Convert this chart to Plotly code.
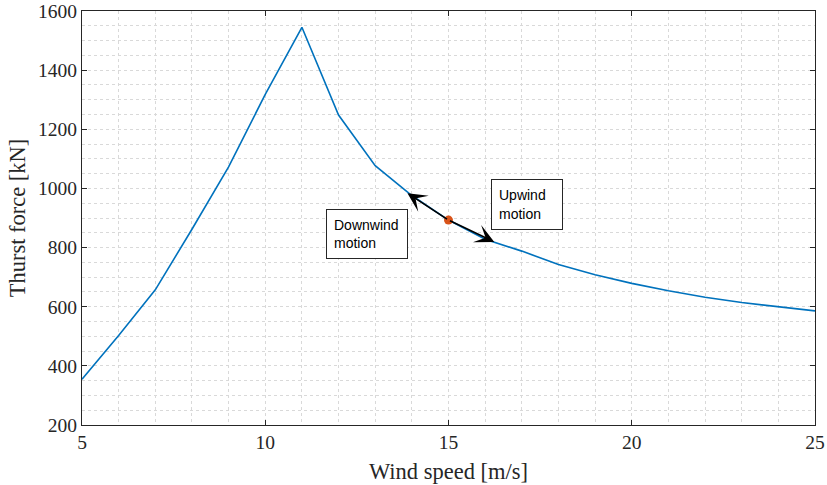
import plotly.graph_objects as go

wind_speed = [5, 6, 7, 8, 9, 10, 11, 12, 13, 14, 15, 16, 17, 18, 19, 20, 21, 22, 23, 24, 25]
thrust = [355, 503, 657, 862, 1073, 1318, 1545, 1248, 1077, 976, 893, 828, 788, 743, 708, 679, 654, 632, 614, 600, 586]
op_point = (15, 893)
arrow_tips = [(13.88, 984), (16.25, 819)]
labels = [("Downwind<br>motion", 11.65, 930), ("Upwind<br>motion", 16.17, 1032)]
label_sizes = [(82, 50), (72, 51)]

fig = go.Figure()
fig.add_trace(go.Scatter(x=wind_speed, y=thrust, mode="lines",
                         line=dict(color="#0072BD", width=1.6), showlegend=False))
fig.add_trace(go.Scatter(x=[op_point[0]], y=[op_point[1]], mode="markers",
                         marker=dict(color="#D95319", size=9), showlegend=False))

for tx, ty in arrow_tips:
    fig.add_annotation(x=tx, y=ty, ax=op_point[0], ay=op_point[1], xref="x", yref="y",
                       axref="x", ayref="y", showarrow=True, arrowhead=3, arrowsize=2.0,
                       arrowwidth=1.6, arrowcolor="black", text="", standoff=0, startstandoff=0)

pad = 7
for (txt, lx, ly), (w, h) in zip(labels, label_sizes):
    fig.add_annotation(x=lx, y=ly, xref="x", yref="y", text=txt, showarrow=False,
                       xanchor="left", yanchor="top", align="left", valign="middle",
                       width=w - 2 * pad - 2, height=h - 2 * pad - 2,
                       font=dict(family="Liberation Sans, Arial", size=14, color="black"),
                       bordercolor="#262626", borderwidth=1, borderpad=pad, bgcolor="white")

grid_col = "#d9d9d9"
serif = "Liberation Serif, DejaVu Serif"
axis_common = dict(showline=True, linecolor="#262626", linewidth=1, mirror="ticks",
                   ticks="inside", ticklen=5, tickcolor="#262626", automargin=False,
                   showgrid=True, gridcolor=grid_col, griddash="dot", gridwidth=1,
                   zeroline=False,
                   tickfont=dict(family=serif, size=19.5, color="#262626"))

fig.update_xaxes(range=[5, 25], dtick=5, tick0=5,
                 title=dict(text="Wind speed [m/s]", standoff=10,
                            font=dict(family=serif, size=22.5, color="#262626")),
                 minor=dict(dtick=1, showgrid=True, gridcolor=grid_col, griddash="dot", ticks=""),
                 **axis_common)
fig.update_yaxes(range=[200, 1600], dtick=200,
                 title=dict(text="Thurst force [kN]", standoff=6,
                            font=dict(family=serif, size=22.5, color="#262626")),
                 minor=dict(dtick=50, showgrid=True, gridcolor=grid_col, griddash="dot", ticks=""),
                 **axis_common)

fig.update_layout(width=827, height=485, margin=dict(l=82, r=12, t=11, b=60),
                  plot_bgcolor="white", paper_bgcolor="white")

fig.write_html("out.html")
